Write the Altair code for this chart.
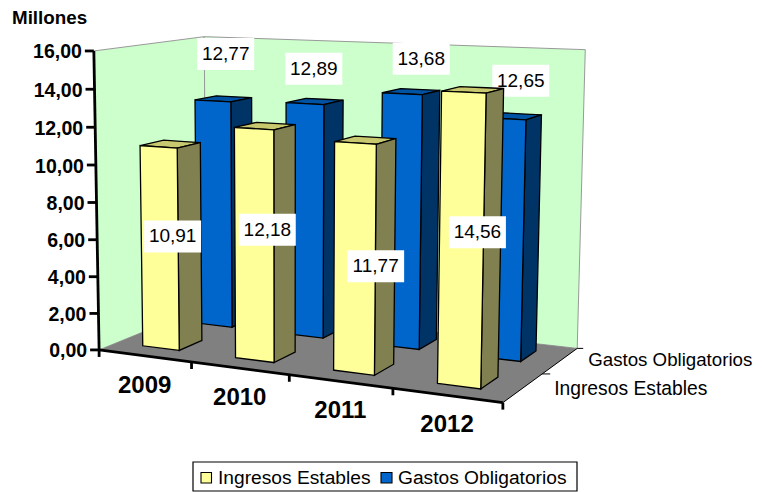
import numpy as np
import altair as alt

YEARS = ["2009", "2010", "2011", "2012"]
INGRESOS = [10.91, 12.18, 11.77, 14.56]
GASTOS = [12.77, 12.89, 13.68, 12.65]
SERIES = ["Ingresos Estables", "Gastos Obligatorios"]
Y_TICKS = [0, 2, 4, 6, 8, 10, 12, 14, 16]
Y_TICK_LABELS = ["0,00", "2,00", "4,00", "6,00", "8,00", "10,00", "12,00", "14,00", "16,00"]
UNIT_LABEL = "Millones"

FONT = "Liberation Sans"
W, H = 746, 484

# camera: category position u, depth v, value w -> page pixels (fitted projective map)
CAMERA = [
    ((0, 0, 0), (100, 350)), ((4, 0, 0), (503, 402)), ((0, 1, 0), (205, 306)),
    ((4, 1, 0), (578, 348)), ((0, 0, 16), (93, 50)), ((0, 1, 16), (205, 37)),
    ((4, 1, 16), (585, 50)), ((1, 0, 0), (192, 362)), ((2, 0, 0), (289, 375)),
    ((3, 0, 0), (392, 389)), ((0, 0, 8), (97, 203)),
]
A, b = [], []
for (X, Y, Z), (px, py) in CAMERA:
    A.append([X, Y, Z, 1, 0, 0, 0, 0, -px * X, -px * Y, -px * Z]); b.append(px)
    A.append([0, 0, 0, 0, X, Y, Z, 1, -py * X, -py * Y, -py * Z]); b.append(py)
P = np.linalg.lstsq(np.array(A, float), np.array(b, float), rcond=None)[0]


def project(u, v, w):
    d = P[8] * u + P[9] * v + P[10] * w + 1
    return ((P[0] * u + P[1] * v + P[2] * w + P[3]) / d,
            (P[4] * u + P[5] * v + P[6] * w + P[7]) / d)


counter = [0]


def poly(vertices, fill):
    """Turn a convex polygon into rows for an area mark (x, upper y, lower y)."""
    counter[0] += 1
    n = len(vertices)
    rows = []
    for x in sorted({round(p[0], 3) for p in vertices}):
        ys = []
        for i in range(n):
            (x0, y0), (x1, y1) = vertices[i], vertices[(i + 1) % n]
            lo, hi = min(x0, x1), max(x0, x1)
            if lo - 0.002 <= x <= hi + 0.002:
                if abs(x1 - x0) < 1e-6:
                    ys += [y0, y1]
                else:
                    t = min(1, max(0, (x - x0) / (x1 - x0)))
                    ys.append(y0 + t * (y1 - y0))
        rows.append({"f": f"f{counter[0]:03d}", "x": x, "y": min(ys), "y2": max(ys), "fill": fill})
    return rows


def area_layer(rows, **style):
    return alt.Chart(alt.Data(values=rows)).mark_area(**style).encode(
        x=alt.X("x:Q", scale=alt.Scale(domain=[8, 8 + W], nice=False, zero=False), axis=None),
        y=alt.Y("y:Q", scale=alt.Scale(domain=[8 + H, 8], nice=False, zero=False), axis=None),
        y2="y2:Q",
        detail="f:N",
        fill=alt.Fill("fill:N", scale=None),
    )


def text_layer(rows, **style):
    return alt.Chart(alt.Data(values=rows)).mark_text(font=FONT, baseline="middle", color="#000000", **style).encode(
        x=alt.X("x:Q", axis=None), y=alt.Y("y:Q", axis=None), text="t:N")


def rule_layer(rows):
    return alt.Chart(alt.Data(values=rows)).mark_rule().encode(
        x=alt.X("x:Q", axis=None), y=alt.Y("y:Q", axis=None), x2="x2:Q", y2="y2:Q",
        color=alt.Color("c:N", scale=None), strokeWidth=alt.StrokeWidth("w:Q", scale=None))


def seg(p, q, c, w):
    return {"x": p[0], "y": p[1], "x2": q[0], "y2": q[1], "c": c, "w": w}


def bar(i, value, v0, v1, front, side, top):
    u0, u1 = i + 0.285, i + 0.685
    return (
        poly([project(u0, v0, value), project(u1, v0, value), project(u1, v1, value), project(u0, v1, value)], top)
        + poly([project(u1, v0, 0), project(u1, v1, 0), project(u1, v1, value), project(u1, v0, value)], side)
        + poly([project(u0, v0, 0), project(u1, v0, 0), project(u1, v0, value), project(u0, v0, value)], front)
    )


def label_box(cx, cy):
    return poly([(cx - 28.5, cy - 16), (cx + 28.5, cy - 16), (cx + 28.5, cy + 16), (cx - 28.5, cy + 16)], "#ffffff")


# walls and floor
walls = (
    poly([project(0, 0, 0), project(0, 1, 0), project(0, 1, 16), project(0, 0, 16)], "#ccffcc")
    + poly([project(0, 1, 0), project(4, 1, 0), project(4, 1, 16), project(0, 1, 16)], "#ccffcc")
)
floor = poly([project(0, 0, 0), project(4, 0, 0), project(4, 1, 0), project(0, 1, 0)], "#808080")

# axes
axis_rules = [seg(project(0, 0, 0), project(0, 0, 16), "#000000", 2.8),
              seg(project(0, 0, 0), project(4, 0, 0), "#000000", 2.8),
              seg(project(4, 0, 0), project(4, 1, 0), "#000000", 1)]
for t in Y_TICKS:
    p = project(0, 0, t)
    axis_rules.append(seg((p[0] - 9, p[1]), p, "#000000", 2.8))
for i in range(len(YEARS) + 1):
    p = project(i, 0, 0)
    axis_rules.append(seg(p, (p[0], p[1] + 7), "#000000", 2.8))
for v, ln in ((0.5, 8), (1, 6)):
    p = project(4, v, 0)
    axis_rules.append(seg(p, (p[0] + ln, p[1]), "#000000", 1))

y_text = [{"x": project(0, 0, t)[0] - 12, "y": project(0, 0, t)[1] + 1.5, "t": s} for t, s in zip(Y_TICKS, Y_TICK_LABELS)]
x_text = [{"x": project(i + 0.5, 0, 0)[0], "y": project(i + 0.5, 0, 0)[1] + 30, "t": y} for i, y in enumerate(YEARS)]
depth_text_front = [{"x": project(4, 0.25, 0)[0] + 31, "y": project(4, 0.25, 0)[1] + 1, "t": SERIES[0]}]
# the canvas ends at x=754, so the back label sits slightly left and smaller to stay whole
depth_text_back = [{"x": project(4, 0.75, 0)[0] + 28, "y": project(4, 0.75, 0)[1] - 1, "t": SERIES[1]}]

# bars, back row first
V_Y, V_B = (0.155, 0.365), (0.66, 0.87)
blue_faces = sum((bar(i, g, V_B[0], V_B[1], "#0066cc", "#003366", "#0052a3") for i, g in enumerate(GASTOS)), [])
yellow_faces = sum((bar(i, g, V_Y[0], V_Y[1], "#ffff99", "#808050", "#c8c86e") for i, g in enumerate(INGRESOS)), [])

# data labels: offset from the bar they belong to
OFF_B = [(12, -47), (8, -35), (18, -35), (15, -38)]
OFF_Y = [(12, -12), (12, -16), (20, 7), (15, -9)]
blue_pos, yellow_pos = [], []
for i, g in enumerate(GASTOS):
    p = project(i + 0.495, V_B[0], g)
    blue_pos.append((p[0] + OFF_B[i][0], p[1] + OFF_B[i][1], f"{g:.2f}".replace(".", ",")))
for i, g in enumerate(INGRESOS):
    p = project(i + 0.495, V_Y[0], g / 2)
    yellow_pos.append((p[0] + OFF_Y[i][0], p[1] + OFF_Y[i][1], f"{g:.2f}".replace(".", ",")))

blue_boxes = sum((label_box(x, y) for x, y, _ in blue_pos), [])
yellow_boxes = sum((label_box(x, y) for x, y, _ in yellow_pos), [])
blue_text = [{"x": x, "y": y, "t": t} for x, y, t in blue_pos]
yellow_text = [{"x": x, "y": y, "t": t} for x, y, t in yellow_pos]

# legend
legend_box = poly([(193, 462), (577, 462), (577, 491), (193, 491)], "#ffffff")
swatches = poly([(201, 472.5), (211.5, 472.5), (211.5, 483), (201, 483)], "#ffff99") + poly(
    [(381, 472.5), (392, 472.5), (392, 483), (381, 483)], "#0066cc")
legend_text = [{"x": 218, "y": 478, "t": SERIES[0]}, {"x": 398, "y": 478, "t": SERIES[1]}]

chart = alt.layer(
    area_layer(walls, stroke="#999999", strokeWidth=1),
    area_layer(floor),
    rule_layer(axis_rules),
    area_layer(blue_faces, stroke="#000000", strokeWidth=1.3, strokeJoin="miter"),
    area_layer(blue_boxes),
    text_layer(blue_text, fontSize=19, align="center"),
    area_layer(yellow_faces, stroke="#000000", strokeWidth=1.3, strokeJoin="miter"),
    area_layer(yellow_boxes),
    text_layer(yellow_text, fontSize=19, align="center"),
    text_layer(y_text, fontSize=19.5, fontWeight="bold", align="right"),
    text_layer(x_text, fontSize=24, fontWeight="bold", align="center"),
    text_layer(depth_text_front, fontSize=19.3, align="left"),
    text_layer(depth_text_back, fontSize=18.7, align="left"),
    text_layer([{"x": 12, "y": 18, "t": UNIT_LABEL}], fontSize=18.8, fontWeight="bold", align="left"),
    area_layer(legend_box, stroke="#000000", strokeWidth=1.2),
    area_layer(swatches, stroke="#000000", strokeWidth=1.1),
    text_layer(legend_text, fontSize=19.2, align="left"),
).properties(
    width=W, height=H, padding=0, background="#ffffff",
    autosize=alt.AutoSizeParams(type="none"),
).configure_view(stroke=None)

chart.save("out.html", embed_options={"renderer": "svg", "actions": False})
